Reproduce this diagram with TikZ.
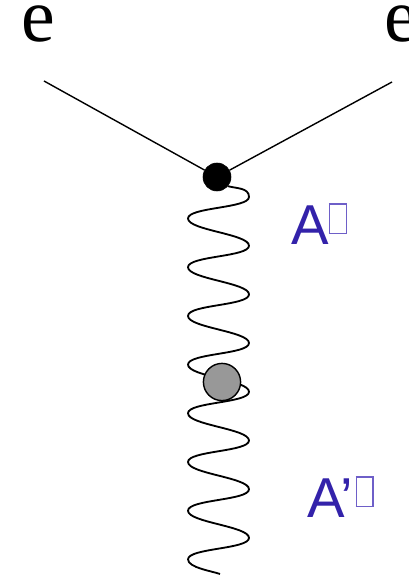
\documentclass[tikz,border=0pt]{standalone}
\usepackage{fontspec}
\setmainfont{Liberation Serif}
\newfontfamily\labelfont{Liberation Sans}
\definecolor{bosonblue}{RGB}{51,34,170}
\definecolor{tofublue}{RGB}{110,95,200}
\definecolor{blobgray}{RGB}{152,152,152}
\newcommand{\tofu}[1][0pt]{\kern#1{\color{tofublue}\fboxsep=0pt\fboxrule=1.1pt\raisebox{0.31cm}{\fbox{\rule{0pt}{0.7cm}\rule{0.38cm}{0pt}}}}}

\begin{document}
\begin{tikzpicture}[
    x=0.025cm, y=0.025cm,
    lepton/.style={font=\fontsize{54}{58}\selectfont, inner sep=0pt, anchor=base west, text height=0.85cm, text depth=0pt},
    boson/.style={font=\labelfont\fontsize{40}{48}\selectfont, text=bosonblue, inner sep=0pt, anchor=base west},
    vertex/.style={draw, circle, fill=black, minimum size=7mm, inner sep=0pt},
    blob/.style={draw, circle, line width=1pt, fill=blobgray, minimum size=9.3mm, inner sep=0pt},
    line/.style={line width=1pt},
    wave/.style={line width=1.3pt},
]
\useasboundingbox (0,0) rectangle (408,577);
\clip (0,0) rectangle (408,577);

% incoming electrons
\node[lepton] (e1) at (21,535) {e};
\node[lepton] (e2) at (384,535) {e};
\coordinate (in1) at (44,496);
\coordinate (in2) at (392,495);
\node[vertex] (vtx) at (217,400) {};

% photon line and blob
\coordinate (wend) at (220,3);
\draw[wave] (vtx.-40) to[out=-15,in=90] (249,380)
    \foreach \k in {0,...,7} {
        to[out=-90,in=90,looseness=0.45] (188,{358.5-48.7*\k})
        \ifnum\k<7 to[out=-90,in=90,looseness=0.45] (249,{331.3-48.7*\k})\fi
    }
    to[out=-90,in=160,looseness=0.6] (wend);
\node[blob] (blob) at (222,195) {};

\draw[line] (in1) -- (vtx);
\draw[line] (in2) -- (vtx);

% labels
\node[boson] (A) at (291,332) {A\tofu};
\node[boson] (Ap) at (307,59) {A’\tofu[0.06cm]};

\end{tikzpicture}
\end{document}
